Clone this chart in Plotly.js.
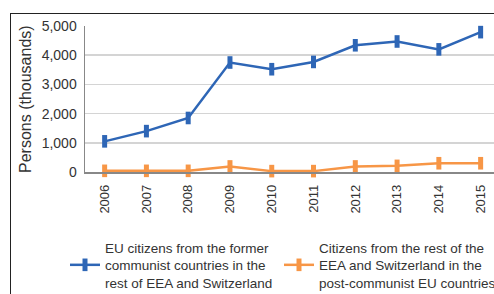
<!DOCTYPE html>
<html>
<head>
<meta charset="utf-8">
<script src="https://cdn.plot.ly/plotly-3.0.1.min.js"></script>
<style>
html,body{margin:0;padding:0;overflow:hidden;background:#fff;}
#wrap{position:relative;width:494px;height:294px;overflow:hidden;}
#chart{position:absolute;left:0;top:0;width:560px;height:294px;}
#frame{position:absolute;left:10px;top:13px;width:500px;height:300px;border-top:1.5px solid #222;border-left:1.5px solid #222;pointer-events:none;}
</style>
</head>
<body>
<div id="wrap"><div id="chart"></div><div id="frame"></div></div>
<script>
const years = ['2006','2007','2008','2009','2010','2011','2012','2013','2014','2015'];
const formerCommunist = [1050, 1400, 1850, 3750, 3520, 3770, 4340, 4470, 4200, 4790];
const restOfEEA = [40, 40, 40, 190, 30, 30, 190, 210, 300, 300];
const seriesNames = [
  'EU citizens from the former<br>communist countries in the<br>rest of EEA and Switzerland',
  'Citizens from the rest of the<br>EEA and Switzerland in the<br>post-communist EU countries'
];
const yTicks = [0, 1000, 2000, 3000, 4000, 5000];
const yTitle = 'Persons (thousands)';

function trace(y, name, color, legend){
  return {
    x: years, y: y, name: name, type: 'scatter', mode: 'lines+markers',
    line: {color: color, width: 2.5},
    marker: {symbol: 'line-ns', size: 9, line: {color: color, width: 5}},
    cliponaxis: false, legend: legend
  };
}

const W = 560;
const PL = 85, PW = 494 - 85;
const font = 'Liberation Sans, Arial, sans-serif';
const data = [
  trace(formerCommunist, seriesNames[0], '#2e66b6', 'legend'),
  trace(restOfEEA, seriesNames[1], '#f79646', 'legend2')
];
function leg(px){
  return {
    orientation: 'v', xref: 'container', yref: 'container',
    x: px/W, y: (294-232)/294, xanchor: 'left', yanchor: 'top',
    font: {size: 13.5, color: '#333'}, valign: 'middle', itemwidth: 30,
    bgcolor: 'rgba(0,0,0,0)'
  };
}
const layout = {
  width: W, height: 294,
  margin: {l: PL, r: W - 494, t: 26, b: 122, autoexpand: false},
  paper_bgcolor: '#fff', plot_bgcolor: '#fff',
  font: {family: font, color: '#333', size: 14},
  showlegend: true,
  xaxis: {
    type: 'category', range: [-0.47, 9.32],
    tickangle: -90, tickfont: {size: 13, color: '#333'},
    showgrid: false, showline: true, linecolor: '#888', linewidth: 1.5,
    ticks: '', ticklabelstandoff: 6, zeroline: false, automargin: false
  },
  yaxis: {
    range: [0, 5000], tickvals: yTicks, tickformat: ',d',
    tickfont: {size: 14, color: '#333'},
    showgrid: true, gridcolor: '#d4d4d4', gridwidth: 1.5,
    showline: true, linecolor: '#888', linewidth: 1.5,
    zeroline: false, ticks: '', ticklabelstandoff: 4, automargin: false
  },
  annotations: [{
    text: yTitle, xref: 'paper', yref: 'paper',
    x: (25 - PL)/PW, y: 0.5, xanchor: 'center', yanchor: 'middle',
    textangle: -90, showarrow: false, font: {size: 16, color: '#333'}
  }],
  legend: leg(65),
  legend2: leg(279)
};
Plotly.newPlot('chart', data, layout, {displayModeBar: false, staticPlot: true});
</script>
</body>
</html>
